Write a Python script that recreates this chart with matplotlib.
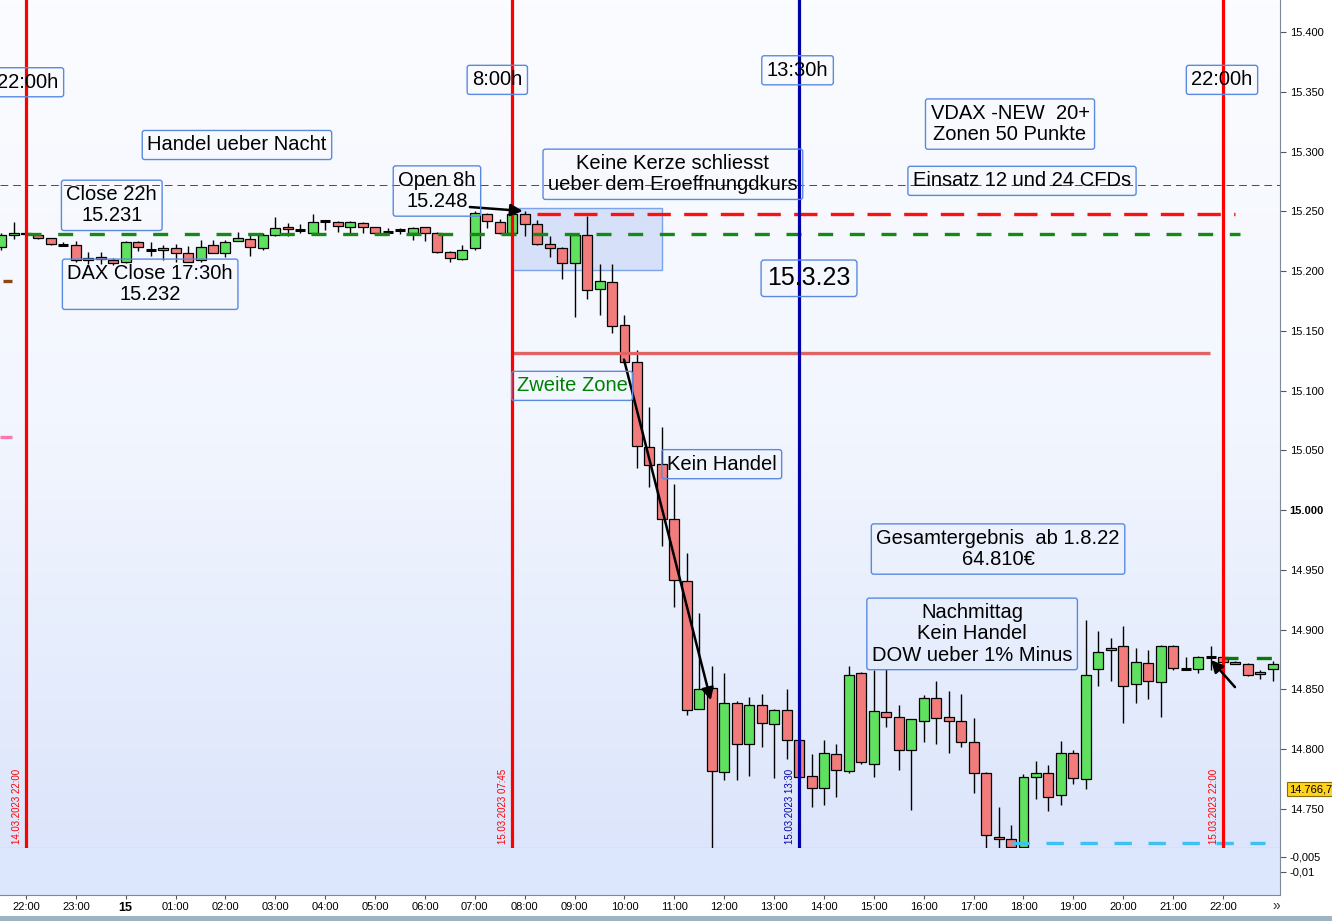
import numpy as np
import matplotlib.pyplot as plt
import matplotlib.transforms as mtransforms
from matplotlib.patches import Rectangle
from matplotlib.colors import LinearSegmentedColormap

plt.rcParams['font.family'] = ['Liberation Sans', 'DejaVu Sans']

# DAX 15 min candles, x = hours after 14.03.2023 22:00
hours = np.arange(-0.5, 25.01, 0.25)
opens = [15220, 15230, 15232, 15230, 15228, 15222, 15222, 15209, 15212, 15209,
         15208, 15224, 15218, 15218, 15219, 15215, 15209, 15222, 15215, 15225,
         15227, 15219, 15230, 15237, 15234, 15232, 15242, 15241, 15237, 15240,
         15237, 15233, 15234, 15232, 15237, 15232, 15216, 15210, 15219, 15248,
         15241, 15232, 15248, 15239, 15223, 15219, 15207, 15230, 15185, 15191,
         15155, 15124, 15053, 15039, 14993, 14941, 14834, 14851, 14781, 14839,
         14804, 14837, 14821, 14833, 14808, 14778, 14768, 14796, 14782, 14864,
         14788, 14831, 14827, 14799, 14824, 14843, 14827, 14824, 14806, 14780,
         14727, 14725, 14718, 14777, 14780, 14762, 14797, 14775, 14867, 14883,
         14886, 14855, 14872, 14856, 14886, 14867, 14867, 14877, 14877, 14873,
         14871, 14863, 14867]
highs = [15232, 15241, 15234, 15231, 15228, 15224, 15225, 15216, 15216, 15211,
         15225, 15225, 15224, 15222, 15223, 15221, 15226, 15226, 15226, 15233,
         15232, 15232, 15245, 15240, 15239, 15248, 15243, 15242, 15242, 15241,
         15237, 15236, 15236, 15237, 15237, 15233, 15217, 15222, 15250, 15249,
         15244, 15250, 15250, 15243, 15229, 15220, 15231, 15246, 15206, 15206,
         15163, 15134, 15086, 15070, 15022, 14964, 14914, 14870, 14864, 14840,
         14844, 14846, 14834, 14850, 14809, 14796, 14808, 14804, 14870, 14865,
         14866, 14867, 14837, 14825, 14845, 14857, 14849, 14846, 14826, 14781,
         14752, 14737, 14779, 14790, 14787, 14807, 14799, 14908, 14899, 14893,
         14903, 14885, 14883, 14887, 14887, 14877, 14878, 14886, 14878, 14874,
         14872, 14866, 14874]
lows = [15218, 15227, 15229, 15227, 15222, 15221, 15208, 15206, 15206, 15205,
        15207, 15217, 15213, 15209, 15208, 15208, 15208, 15215, 15212, 15225,
        15213, 15218, 15229, 15229, 15232, 15232, 15234, 15233, 15232, 15232,
        15230, 15230, 15231, 15226, 15225, 15215, 15208, 15209, 15218, 15236,
        15231, 15230, 15229, 15222, 15212, 15193, 15162, 15177, 15163, 15148,
        15123, 15035, 15019, 14970, 14919, 14829, 14834, 14712, 14774, 14774,
        14778, 14802, 14776, 14792, 14776, 14752, 14753, 14760, 14780, 14788,
        14777, 14819, 14783, 14749, 14806, 14804, 14797, 14802, 14763, 14712,
        14712, 14712, 14717, 14758, 14748, 14753, 14771, 14767, 14853, 14857,
        14822, 14839, 14842, 14827, 14866, 14866, 14864, 14866, 14872, 14871,
        14861, 14859, 14857]
closes = [15230, 15232, 15231, 15228, 15223, 15222, 15209, 15211, 15210, 15207,
          15224, 15220, 15218, 15219, 15215, 15208, 15220, 15215, 15224, 15228,
          15220, 15230, 15236, 15235, 15234, 15241, 15242, 15238, 15241, 15237,
          15232, 15233, 15234, 15236, 15232, 15216, 15211, 15218, 15249, 15242,
          15232, 15248, 15239, 15223, 15219, 15207, 15230, 15184, 15192, 15154,
          15124, 15054, 15038, 14993, 14942, 14833, 14850, 14782, 14839, 14804,
          14837, 14822, 14833, 14808, 14777, 14768, 14797, 14783, 14862, 14789,
          14832, 14827, 14799, 14825, 14843, 14826, 14824, 14806, 14780, 14728,
          14725, 14718, 14777, 14780, 14760, 14797, 14776, 14862, 14881, 14885,
          14853, 14873, 14857, 14886, 14868, 14867, 14877, 14877, 14873, 14871,
          14862, 14865, 14871]

# marked levels
close_22h = 15231
open_8h = 15248
zone_2 = 15131.5
low_line = 14721.6
upper_grey = 15272
late_green = 14876
last_price = 14766.7

time_marks = [0, 9.75, 15.5, 24]
time_mark_cols = ['#ff0000', '#ff0000', '#0000a8', '#ff0000']
time_mark_texts = ['14.03.2023 22:00', '15.03.2023 07:45', '15.03.2023 13:30', '15.03.2023 22:00']

hour_labels = ['22:00', '23:00', '15'] + ['%02d:00' % h for h in range(1, 23)]

YMIN, YMAX = 14717.4, 15426.8
XMIN, XMAX = -0.521, 25.143

fig = plt.figure(figsize=(13.32, 9.21), dpi=100)
ax = fig.add_axes([0, 1 - 848 / 921, 1280 / 1332, 848 / 921])
ax2 = fig.add_axes([0, 1 - 895 / 921, 1280 / 1332, 47 / 921])

# background gradient, light at the top, pale blue at the bottom
cmap = LinearSegmentedColormap.from_list('bg', ['#fbfcff', '#f2f6fe', '#dce5fb'])
grad = np.linspace(0, 1, 256).reshape(-1, 1)
ax.imshow(grad, extent=[XMIN, XMAX, YMIN, YMAX], aspect='auto', cmap=cmap, zorder=0,
          vmin=0, vmax=1, origin='upper')

# opening zone rectangle
ax.add_patch(Rectangle((9.75, 15201), 3.0, 51.8, fc='#d3dff9', ec='#6f9be8', lw=1, zorder=1.2, alpha=0.9))

# candles
o = np.array(opens); c = np.array(closes)
ax.vlines(hours, lows, highs, color='black', lw=1, zorder=2)
up = c > o
dn = c < o
ax.bar(hours[up], (c - o)[up], bottom=o[up], width=0.2, color='#5fe05f', edgecolor='black', lw=0.9, zorder=2.5)
ax.bar(hours[dn], (o - c)[dn], bottom=c[dn], width=0.2, color='#f27c7c', edgecolor='black', lw=0.9, zorder=2.5)
dj = c == o
ax.hlines(c[dj], hours[dj] - 0.1, hours[dj] + 0.1, color='black', lw=2.2, zorder=2.6)

# horizontal levels
ax.axhline(upper_grey, color='#4a4a4a', lw=0.7, ls=(0, (8, 5)), zorder=1.5)
ax.hlines(close_22h, 0, 24.34, color='#138a13', lw=2.4, ls=(0, (4.5, 5)), zorder=3)
ax.hlines(open_8h, 10.25, 24.24, color='#ff1010', lw=2.4, ls=(0, (7, 4)), zorder=3)
ax.hlines(zone_2, 9.75, 23.74, color='#e06464', lw=2.4, zorder=3)
ax.hlines(low_line, 19.77, 24.84, color='#3ec0f2', lw=2.4, ls=(0, (5.2, 5)), zorder=3)
ax.hlines(late_green, 24.0, 25.0, color='#087808', lw=2.4, ls=(0, (4.5, 5.5)), zorder=3)
ax.hlines(15191.7, -0.46, -0.28, color='#8b4a10', lw=2.4, zorder=3)
ax.hlines(15061, -0.52, -0.28, color='#ff77b0', lw=2.4, zorder=3)

# vertical time lines
for t, col, s in zip(time_marks, time_mark_cols, time_mark_texts):
    ax.axvline(t, color=col, lw=2.3, zorder=4)
    ax.text(t - 0.18, YMIN + 3, s, rotation=90, color=col, fontsize=7, ha='center', va='bottom', zorder=4)

box = dict(boxstyle='round,pad=0.25,rounding_size=0.12', fc='none', ec='#5a8ae0', lw=1)


def note(x, y, s, size=14.5, color='black'):
    ax.text(x, y, s, ha='center', va='center', fontsize=size, color=color, zorder=10,
            linespacing=1.15, bbox=box)


note(0.04, 15358, '22:00h')
note(9.45, 15360, '8:00h')
note(15.47, 15368, '13:30h')
note(23.98, 15360, '22:00h')
note(4.23, 15305.5, 'Handel ueber Nacht')
note(1.72, 15255, 'Close 22h\n15.231')
note(2.49, 15189, 'DAX Close 17:30h\n15.232')
note(8.24, 15267, 'Open 8h\n15.248')
note(12.97, 15281, 'Keine Kerze schliesst\nueber dem Eroeffnungdkurs')
note(15.7, 15194, '15.3.23', size=18)
note(19.73, 15323, 'VDAX -NEW  20+\nZonen 50 Punkte')
note(19.97, 15275.5, 'Einsatz 12 und 24 CFDs')
note(10.95, 15104, 'Zweite Zone', color='#008000')
note(13.95, 15038.5, 'Kein Handel')
note(19.49, 14967.5, 'Gesamtergebnis  ab 1.8.22\n64.810€')
note(18.97, 14896.5, 'Nachmittag\nKein Handel\nDOW ueber 1% Minus')

arrow = dict(arrowstyle='-|>', color='black', lw=1.8, mutation_scale=18, shrinkA=0, shrinkB=0)
ax.annotate('', xy=(9.96, 15250.3), xytext=(8.9, 15253.6), arrowprops=arrow, zorder=9)
ax.annotate('', xy=(13.73, 14841), xytext=(11.99, 15126), arrowprops=arrow, zorder=9)
ax.annotate('', xy=(23.76, 14874.7), xytext=(24.24, 14852), arrowprops=arrow, zorder=9)

# axes
ax.set_xlim(XMIN, XMAX)
ax.set_ylim(YMIN, YMAX)
yt = np.arange(14750, 15401, 50)
ax.set_yticks(yt, ['%.3f' % (v / 1000) for v in yt])
ax.yaxis.tick_right()
ax.tick_params(axis='y', labelsize=8, length=4, color='#555555', pad=3)
ax.tick_params(axis='x', bottom=False, labelbottom=False)
for lab, v in zip(ax.get_yticklabels(), yt):
    if v == 15000:
        lab.set_fontweight('bold')
for side in ['left', 'top']:
    ax.spines[side].set_visible(False)
for side in ['right', 'bottom']:
    ax.spines[side].set_color('#7d8b99')

trans = mtransforms.blended_transform_factory(ax.transAxes, ax.transData)
ax.text(1.007, last_price, '14.766,7', transform=trans, fontsize=8, va='center', ha='left', zorder=11,
        bbox=dict(boxstyle='square,pad=0.15', fc='#ffd21f', ec='#8a6d00', lw=0.8), clip_on=False)

ax2.set_facecolor('#dce6fc')
ax2.set_xlim(XMIN, XMAX)
ax2.set_ylim(-0.0177, -0.002)
ax2.set_yticks([-0.005, -0.01], ['-0,005', '-0,01'])
ax2.yaxis.tick_right()
ax2.tick_params(axis='y', labelsize=8, length=4, color='#555555', pad=3)
ax2.set_xticks(range(25), hour_labels)
ax2.tick_params(axis='x', labelsize=8, length=3, color='#555555', pad=2)
for lab, s in zip(ax2.get_xticklabels(), hour_labels):
    if s == '15':
        lab.set_fontweight('bold')
        lab.set_fontsize(9)
for side in ['left', 'top']:
    ax2.spines[side].set_visible(False)
for side in ['right', 'bottom']:
    ax2.spines[side].set_color('#7d8b99')

fig.patches.append(Rectangle((0, 0), 1, 5 / 921, transform=fig.transFigure, fc='#9fb4c2', ec='none'))
fig.text(1276 / 1332, 1 - 906 / 921, '»', fontsize=10, ha='center', va='center', color='#333333')

fig.savefig('out.png', dpi=100)
